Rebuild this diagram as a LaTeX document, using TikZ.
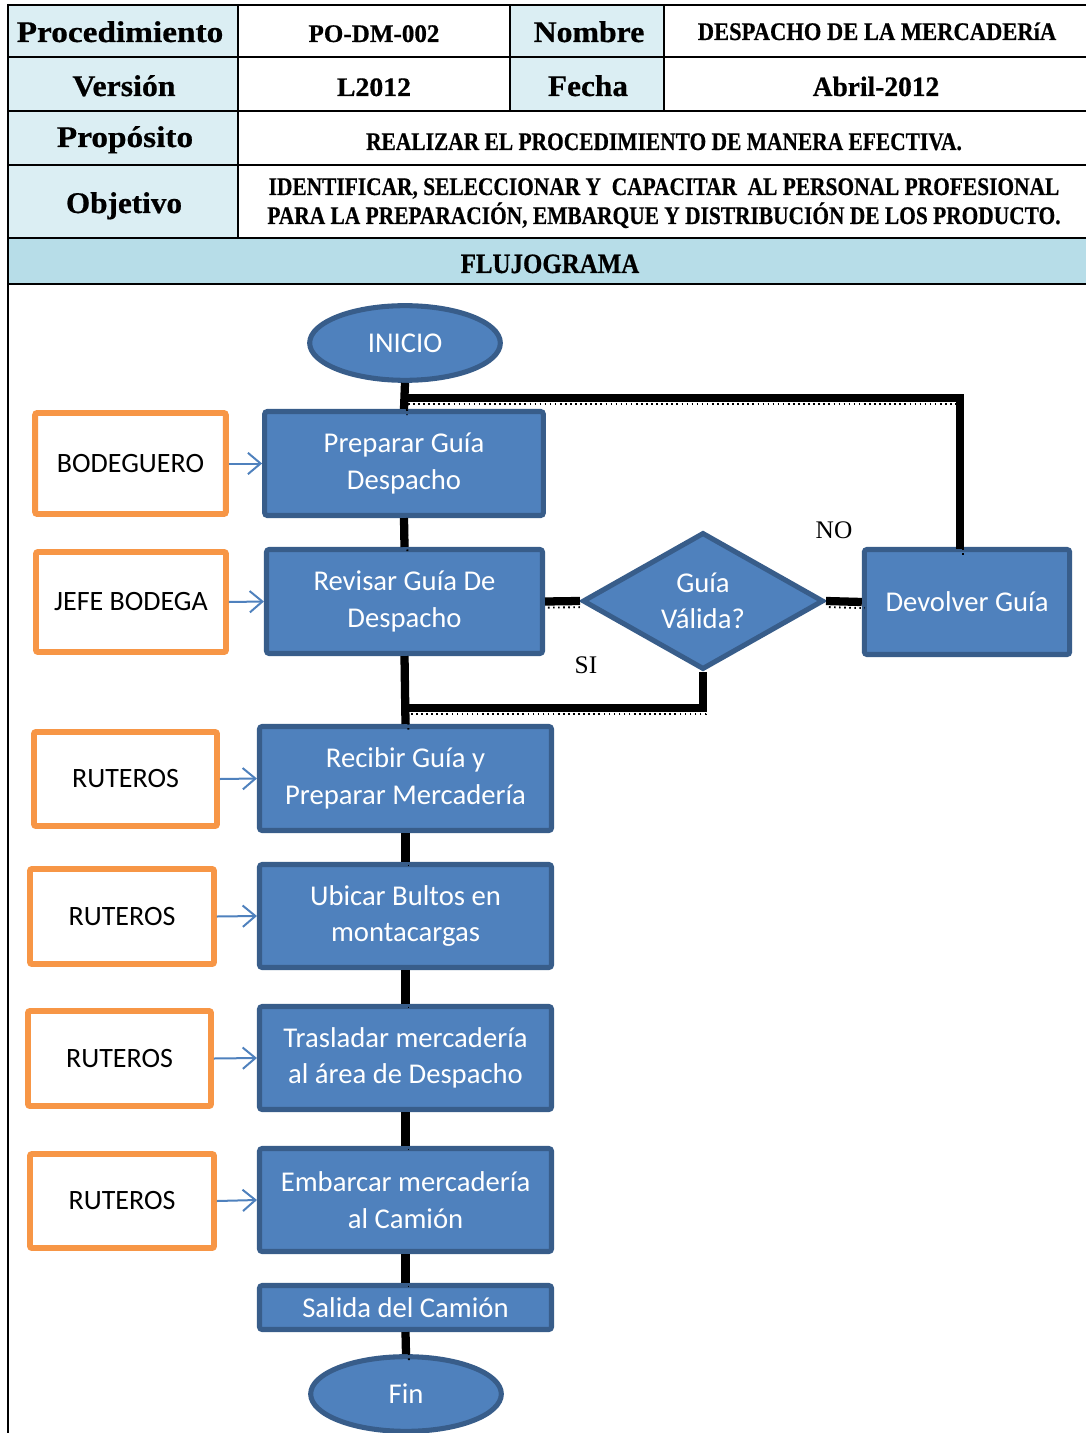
\documentclass[tikz,border=0pt]{standalone}
\usepackage{fontspec}
\usepackage{graphicx}
\setmainfont{Liberation Serif}
\newfontfamily\hdrfont{Liberation Serif}[BoldFeatures={FakeBold=0.6}]
\newfontfamily\flowfont{Carlito}
\usetikzlibrary{shapes.geometric,arrows.meta}

\definecolor{stepfill}{HTML}{4F81BD}
\definecolor{stepedge}{HTML}{385D8A}
\definecolor{roleedge}{HTML}{F79646}
\definecolor{celllight}{HTML}{DBEEF3}
\definecolor{cellbar}{HTML}{B7DDE8}

% header text: horizontally scaled bold serif
\newcommand\hdr[3]{\scalebox{#1}[1]{\hdrfont\fontsize{#2}{#2}\selectfont\bfseries #3}}

\begin{document}
\begin{tikzpicture}[x=0.75pt,y=-0.75pt,
  grid/.style={line width=2.2pt, black},
  hd/.style={anchor=base, inner sep=0pt},
  stepbox/.style={draw=stepedge, fill=stepfill, line width=3.8pt, rounded corners=2pt,
    text=white, align=center, inner sep=2pt,
    font=\flowfont\fontsize{21.5pt}{27.5pt}\selectfont},
  termbox/.style={ellipse, draw=stepedge, fill=stepfill, line width=3.8pt,
    text=white, inner sep=0pt, minimum width=143pt, minimum height=56pt,
    font=\flowfont\fontsize{21.5pt}{27.5pt}\selectfont},
  decbox/.style={diamond, draw=stepedge, fill=stepfill, line width=3.8pt,
    text=white, align=center, inner sep=0pt, aspect=1.76,
    minimum width=180.75pt, minimum height=102.75pt,
    font=\flowfont\fontsize{21.5pt}{27pt}\selectfont},
  rolebox/.style={draw=roleedge, fill=white, line width=4.4pt, rounded corners=1.5pt,
    text=black, align=center, inner sep=2pt,
    font=\flowfont\fontsize{21pt}{26pt}\selectfont},
  conn/.style={line width=6.2pt, black,
    preaction={draw, black, line width=1.4pt, dash pattern=on 1.2pt off 2.6pt,
      transform canvas={shift={(2.2pt,-4.6pt)}}}},
  rolearrow/.style={draw=stepfill, line width=1.5pt,
    -{Straight Barb[length=9.5pt,width=16pt,line width=1.5pt]}},
  tag/.style={inner sep=0pt, font=\fontsize{19pt}{19pt}\selectfont}
]
\useasboundingbox (0,0) rectangle (1086,1433);

% ---------- header table ----------
\fill[celllight] (8,5) rectangle (238,238);
\fill[celllight] (510,5) rectangle (664,111);
\fill[cellbar] (8,238) rectangle (1086,284);

\foreach \yy in {5,57,111,165,238,284}
  \draw[grid] (8,\yy) -- (1086,\yy);
\draw[grid] (8,4) -- (8,1433);
\draw[grid] (238,5) -- (238,238);
\draw[grid] (510,5) -- (510,111);
\draw[grid] (664,5) -- (664,111);

\node[hd] (hProc) at (120,42) {\hdr{1.11}{22.5pt}{Procedimiento}};
\node[hd] (hCode) at (374,42) {\hdr{0.99}{19pt}{PO-DM-002}};
\node[hd] (hNom)  at (589,42) {\hdr{1.06}{22.5pt}{Nombre}};
\node[hd] (hName) at (877,40) {\hdr{0.89}{19pt}{DESPACHO DE LA MERCADERíA}};
\node[hd] (hVer)  at (124,96) {\hdr{1.06}{22.5pt}{Versión}};
\node[hd] (hVerV) at (374,96) {\hdr{1.04}{20pt}{L2012}};
\node[hd] (hFec)  at (588,96) {\hdr{1.045}{22.5pt}{Fecha}};
\node[hd] (hFecV) at (876,96) {\hdr{0.98}{21pt}{Abril-2012}};
\node[hd] (hPro)  at (125,147) {\hdr{1.11}{22.5pt}{Propósito}};
\node[hd] (hProV) at (664,150) {\hdr{0.846}{19pt}{REALIZAR EL PROCEDIMIENTO DE MANERA EFECTIVA.}};
\node[hd] (hObj)  at (124,213) {\hdr{1.04}{22.5pt}{Objetivo}};
\node[hd] (hObj1) at (664,195) {\hdr{0.845}{19pt}{IDENTIFICAR, SELECCIONAR Y~~CAPACITAR~~AL PERSONAL PROFESIONAL}};
\node[hd] (hObj2) at (664,224) {\hdr{0.845}{19pt}{PARA LA PREPARACIÓN, EMBARQUE Y DISTRIBUCIÓN DE LOS PRODUCTO.}};
\node[hd] (hFlow) at (550,273) {\hdr{0.89}{21pt}{FLUJOGRAMA}};

% ---------- flowchart steps ----------
\node[termbox] (ini) at (405,343) {INICIO};
\node[stepbox, minimum width=209pt, minimum height=78pt] (prep) at (404,463.5) {Preparar Guía\\Despacho};
\node[stepbox, minimum width=207pt, minimum height=78pt] (rev) at (404.5,601.5) {Revisar Guía De\\Despacho};
\node[decbox] (dec) at (703,601) {Guía\\Válida?};
\node[stepbox, minimum width=154pt, minimum height=78.75pt] (dev) at (967,602) {Devolver Guía};
\node[stepbox, minimum width=219pt, minimum height=78pt] (rec) at (405.5,778.5) {Recibir Guía y\\Preparar Mercadería};
\node[stepbox, minimum width=219pt, minimum height=77.25pt] (ubi) at (405.5,916) {Ubicar Bultos en\\montacargas};
\node[stepbox, minimum width=219pt, minimum height=77.25pt] (tras) at (405.5,1058) {Trasladar mercadería\\al área de Despacho};
\node[stepbox, minimum width=219pt, minimum height=77.25pt] (emb) at (405.5,1200) {Embarcar mercadería\\al Camión};
\node[stepbox, minimum width=219pt, minimum height=33pt] (sal) at (405.5,1307.5) {Salida del Camión};
\node[termbox] (fin) at (406,1394) {Fin};

% ---------- roles ----------
\node[rolebox, minimum width=143pt, minimum height=75.75pt] (rBod) at (130.5,463.5) {BODEGUERO};
\node[rolebox, minimum width=142.5pt, minimum height=75pt] (rJefe) at (131,602) {JEFE BODEGA};
\node[rolebox, minimum width=137.25pt, minimum height=70.5pt] (rRut1) at (125.5,779) {RUTEROS};
\node[rolebox, minimum width=138pt, minimum height=71.25pt] (rRut2) at (122,916.5) {RUTEROS};
\node[rolebox, minimum width=137.25pt, minimum height=71.25pt] (rRut3) at (119.5,1058.5) {RUTEROS};
\node[rolebox, minimum width=138pt, minimum height=70.5pt] (rRut4) at (122,1201) {RUTEROS};

\draw[rolearrow] (rBod.east) -- (prep.west);
\draw[rolearrow] (rJefe.east) -- (rev.west);
\draw[rolearrow] (rRut1.east) -- (rec.west);
\draw[rolearrow] (rRut2.east) -- (ubi.west);
\draw[rolearrow] (rRut3.east) -- (tras.west);
\draw[rolearrow] (rRut4.east) -- (emb.west);

% ---------- connectors ----------
\coordinate (loopTop) at (405,398);
\coordinate (devTop) at (960,549);
\coordinate (joinSi) at (405,708);

\draw[conn] (ini.south) -- (prep.north);
\draw[conn] (loopTop) -| (devTop);
\draw[conn] (prep.south) -- (rev.north);
\draw[conn] (rev.east) -- (dec.west);
\draw[conn] (dec.east) -- (dev.west);
\draw[conn] (dec.south) |- (joinSi);
\draw[conn] (rev.south) -- (rec.north);
\draw[conn] (rec.south) -- (ubi.north);
\draw[conn] (ubi.south) -- (tras.north);
\draw[conn] (tras.south) -- (emb.north);
\draw[conn] (emb.south) -- (sal.north);
\draw[conn] (sal.south) -- (fin.north);

% ---------- branch labels ----------
\node[tag] (lNo) at (834,530) {NO};
\node[tag] (lSi) at (586,665) {SI};
\end{tikzpicture}
\end{document}
